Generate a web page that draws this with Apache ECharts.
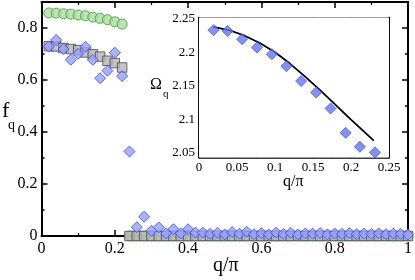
<!DOCTYPE html>
<html><head><meta charset="utf-8">
<script src="https://cdn.jsdelivr.net/npm/echarts@6/dist/echarts.min.js"></script>
<style>html,body{margin:0;padding:0;background:#fff}#c{width:415px;height:280px}</style>
</head><body><div id="c"></div>
<script>
// ---- data ----
var qMain = [0.02,0.04,0.06,0.08,0.10,0.12,0.14,0.16,0.18,0.20,0.22,0.24,0.26,0.28,0.30,0.32,0.34,0.36,0.38,0.40,
  0.42,0.44,0.46,0.48,0.50,0.52,0.54,0.56,0.58,0.60,0.62,0.64,0.66,0.68,0.70,0.72,0.74,0.76,0.78,0.80,
  0.82,0.84,0.86,0.88,0.90,0.92,0.94,0.96,0.98,1.00];
var fCircle = [0.858,0.857,0.855,0.853,0.850,0.847,0.842,0.837,0.832,0.824,0.815,0,0,0,0,0,0,0,0,0,
  0,0,0,0,0,0,0,0,0,0,0,0,0,0,0,0,0,0,0,0,0,0,0,0,0,0,0,0,0,0];
var fSquare = [0.730,0.729,0.723,0.719,0.715,0.706,0.699,0.690,0.674,0.665,0.648,0,0,0,0,0,0,0,0,0,
  0,0,0,0,0,0,0,0,0,0,0,0,0,0,0,0,0,0,0,0,0,0,0,0,0,0,0,0,0,0];
var fDiamond = [0.729,0.754,0.719,0.678,0.701,0.728,0.678,0.607,0.636,0.705,0.615,0.325,0.034,0.074,0.020,0.033,0.010,0.026,0.010,0.026,
  0.013,0.013,0.008,0.012,0.006,0.015,0.009,0.016,0.007,0.011,0.006,0.013,0.008,0.012,0.006,0.010,0.009,0.011,0.006,0.010,
  0.008,0.011,0.007,0.009,0.008,0.010,0.007,0.009,0.008,0.006];
var qInset = [0.0191,0.0376,0.0566,0.0764,0.0959,0.1150,0.1344,0.1542,0.1731,0.1929,0.2117,0.2315];
var omegaPts = [2.2326,2.2315,2.2192,2.2068,2.1969,2.1790,2.1568,2.1398,2.1160,2.0798,2.0589,2.0506];
var qLine = [0.019,0.04,0.06,0.08,0.10,0.12,0.14,0.16,0.18,0.20,0.22,0.23];
var omegaLine = [2.2375,2.2325,2.2244,2.2135,2.1998,2.1825,2.1630,2.1425,2.1210,2.0995,2.0785,2.0680];
var mainYTicks = [0,0.2,0.4,0.6,0.8];
var mainYMinor = [0.1,0.3,0.5,0.7];
var insetYTicks = [2.05,2.1,2.15,2.2,2.25];
var insetYMinor = [2.075,2.125,2.175,2.225];

function pairs(xs, ys){ return xs.map(function(x,i){ return [x, ys[i]]; }); }

var SERIF = 'Liberation Serif';
var chart = echarts.init(document.getElementById('c'), null, {renderer:'canvas'});

function xAx(grid, pos, min, max, interval, labels, fs, margin){
  return {gridIndex:grid, type:'value', position:pos, min:min, max:max, interval:interval,
    axisLine:{show:true, onZero:false, lineStyle:{color:'#000', width: grid===0?2:1.5}},
    axisTick:{show:true, inside:true, length: grid===0?6:5, lineStyle:{color:'#000', width:1.5}},
    minorTick:{show:true, splitNumber:2, length:3, lineStyle:{color:'#000', width:1.2}},
    splitLine:{show:false},
    axisLabel:{show:labels, color:'#000', fontFamily:SERIF, fontSize:fs, margin:margin,
      formatter:function(v){ return String(+v.toFixed(3)); }}};
}
function yAx(grid, pos, min, max, ticks, len, labels, fs, margin){
  return {gridIndex:grid, type:'value', position:pos, min:min, max:max,
    axisLine:{show:true, onZero:false, lineStyle:{color:'#000', width: grid===0?2:1.5}},
    axisTick:{show:true, inside:true, length:len, customValues:ticks, lineStyle:{color:'#000', width:1.5}},
    splitLine:{show:false},
    axisLabel:{show:labels, customValues:ticks, color:'#000', fontFamily:SERIF, fontSize:fs, margin:margin,
      formatter:function(v){ return String(+(+v).toFixed(3)); }}};
}

var option = {
  animation:false,
  backgroundColor:'#fff',
  grid:[
    {left:41.5, right:5.5, top:2, bottom:44, show:false},
    {left:199, top:17.5, width:190, height:140, show:true, backgroundColor:'#fff', borderWidth:0, z:3}
  ],
  xAxis:[
    xAx(0,'bottom',0,1,0.2,true,16,5),
    xAx(0,'top',0,1,0.2,false,16,5),
    xAx(1,'bottom',0,0.25,0.05,true,13,4),
    xAx(1,'top',0,0.25,0.05,false,13,4)
  ],
  yAxis:[
    yAx(0,'left',0,0.9,mainYTicks,6,true,16,4),
    yAx(0,'left',0,0.9,mainYMinor,3,false,16,4),
    yAx(0,'right',0,0.9,mainYTicks,6,false,16,4),
    yAx(0,'right',0,0.9,mainYMinor,3,false,16,4),
    yAx(1,'left',2.043,2.2515,insetYTicks,5,true,13,4),
    yAx(1,'left',2.043,2.2515,insetYMinor,3,false,13,4),
    yAx(1,'right',2.043,2.2515,insetYTicks,5,false,13,4),
    yAx(1,'right',2.043,2.2515,insetYMinor,3,false,13,4)
  ],
  series:[
    {type:'scatter', xAxisIndex:0, yAxisIndex:0, data:pairs(qMain,fCircle), symbol:'circle', symbolSize:10, clip:false,
      itemStyle:{color:'#acdea0', borderColor:'#3a9a3a', borderWidth:1}, z:2},
    {type:'scatter', xAxisIndex:0, yAxisIndex:0, data:pairs(qMain,fSquare), symbol:'rect', symbolSize:9.5, clip:false,
      itemStyle:{color:'#b4b4b4', borderColor:'#4a4a4a', borderWidth:1}, z:3},
    {type:'scatter', xAxisIndex:0, yAxisIndex:0, data:pairs(qMain,fDiamond), symbol:'diamond', symbolSize:11, clip:false,
      itemStyle:{color:'#94a0ff', borderColor:'#3a4aff', borderWidth:1}, z:4},
    {type:'line', xAxisIndex:2, yAxisIndex:4, data:pairs(qLine,omegaLine), smooth:false, symbol:'none',
      lineStyle:{color:'#000', width:1.8}, z:6},
    {type:'scatter', xAxisIndex:2, yAxisIndex:4, data:pairs(qInset,omegaPts), symbol:'diamond', symbolSize:11,
      itemStyle:{color:'#6474f4', borderColor:'#4a5af8', borderWidth:1}, z:7}
  ],
  graphic:[
    {type:'text', left:213, top:256, style:{text:'q/\u03c0', font:'20px "Liberation Serif"', fill:'#000'}},
    {type:'text', left:2, top:100, style:{text:'f', font:'22px "Liberation Serif"', fill:'#000'}},
    {type:'text', left:8, top:118, style:{text:'q', font:'14px "Liberation Serif"', fill:'#000'}},
    {type:'text', left:150, top:77, style:{text:'\u03a9', font:'16px "Liberation Serif"', fill:'#000'}},
    {type:'text', left:163, top:89, style:{text:'q', font:'11px "Liberation Serif"', fill:'#000'}},
    {type:'text', left:283, top:174, style:{text:'q/\u03c0', font:'16px "Liberation Serif"', fill:'#000'}}
  ]
};
chart.setOption(option);
</script></body></html>
